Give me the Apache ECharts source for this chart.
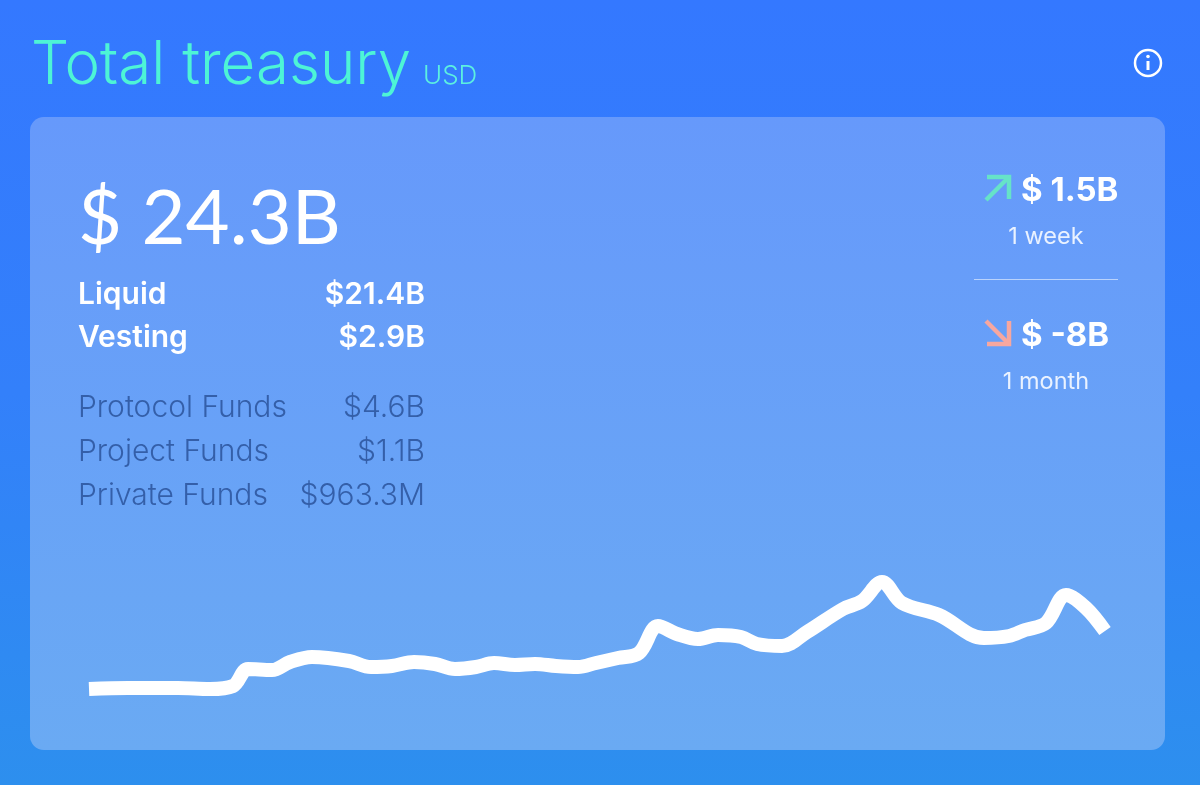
<!DOCTYPE html>
<html><head><meta charset="utf-8">
<style>html,body{margin:0;padding:0;width:1200px;height:785px;overflow:hidden}#c{width:1200px;height:785px}</style>
<script src="https://cdn.jsdelivr.net/npm/echarts@6/dist/echarts.min.js"></script>
</head><body><div id="c"></div>
<script>
// Horizontal position along the period (arbitrary time units) and treasury value in $B
const timeSteps = [0,39,89,121,144,159,183,201,223,260,282,303,325,346,366,387,405,426,446,467,489,507,529,550,569,588,609,629,652,668,693,718,754,773,793,813,850,895,920,936,957,977,997,1016];
const treasuryValues = [8.64,8.91,8.91,8.64,9.45,14.04,13.77,15.93,17.28,16.2,14.58,14.85,15.93,15.39,14.04,14.58,15.66,15.12,15.39,14.85,14.58,15.66,17.01,18.36,25.65,23.49,22.14,23.22,22.68,20.79,20.25,24.03,30.24,32.4,37.53,31.86,28.62,22.41,22.95,24.57,26.46,34.02,30.51,24.3];

const titleText = 'Total treasury';
const unitText = 'USD';
const totalText = '$ 24.3B';
const mainLabels = ['Liquid', 'Vesting'];
const mainValues = ['$21.4B', '$2.9B'];
const fundLabels = ['Protocol Funds', 'Project Funds', 'Private Funds'];
const fundValues = ['$4.6B', '$1.1B', '$963.3M'];
const changeValues = ['$ 1.5B', '$ -8B'];
const changePeriods = ['1 week', '1 month'];

const INTER = 'Inter, "Noto Sans", sans-serif';
const ROUND = 'Lato, "Noto Sans", sans-serif';

function label(text, x, baseline, size, weight, family, fill, align) {
  return {
    type: 'text', z: 5,
    style: {
      text, x, y: baseline - size * 0.28,
      fill, font: `${weight} ${size}px ${family}`,
      textAlign: align || 'left', textVerticalAlign: 'middle'
    }
  };
}
function arrow(points, color) {
  return points.map(p => ({
    type: 'polyline', z: 5,
    shape: { points: p },
    style: { stroke: color, lineWidth: 4.5, fill: null, lineCap: 'butt', lineJoin: 'miter' }
  }));
}

const graphics = [
  {
    type: 'rect', z: 0,
    shape: { x: 30, y: 117, width: 1135, height: 633, r: 14 },
    style: { fill: new echarts.graphic.LinearGradient(0, 0, 0, 1, [
      { offset: 0, color: '#6699fb' }, { offset: 1, color: '#6aaaf3' }
    ]) }
  },
  label(titleText, 31, 83, 60, 300, INTER, '#4df4d6'),
  label(unitText, 423, 83, 26, 300, INTER, '#5cf0e0'),
  label(totalText, 78, 241, 76, 400, ROUND, '#ffffff'),
  { type: 'circle', z: 5, shape: { cx: 1148, cy: 63, r: 13 }, style: { stroke: '#ffffff', lineWidth: 2.5, fill: null } },
  { type: 'circle', z: 5, shape: { cx: 1148, cy: 56.5, r: 1.8 }, style: { fill: '#ffffff' } },
  { type: 'line', z: 5, shape: { x1: 1148, y1: 61, x2: 1148, y2: 70 }, style: { stroke: '#ffffff', lineWidth: 3 } },
  { type: 'line', z: 5, shape: { x1: 974, y1: 279.5, x2: 1118, y2: 279.5 }, style: { stroke: 'rgba(255,255,255,0.55)', lineWidth: 1 } },
  ...arrow([[[986, 200], [1008, 178]], [[987, 177], [1009, 177], [1009, 199]]], '#66e3c8'),
  ...arrow([[[986, 321], [1008, 343]], [[987, 344], [1009, 344], [1009, 321]]], '#f7a79f')
];
mainLabels.forEach((t, i) => {
  const b = [303, 346][i];
  graphics.push(label(t, 78, b, 30, 600, INTER, '#ffffff'));
  graphics.push(label(mainValues[i], 425, b, 30, 600, INTER, '#ffffff', 'right'));
});
fundLabels.forEach((t, i) => {
  const b = [416, 460, 504][i];
  graphics.push(label(t, 78, b, 30, 300, INTER, '#345fa9'));
  graphics.push(label(fundValues[i], 425, b, 30, 300, INTER, '#345fa9', 'right'));
});
changeValues.forEach((t, i) => {
  graphics.push(label(t, 1021, [200, 345][i], 33, 700, INTER, '#ffffff'));
  graphics.push(label(changePeriods[i], 1046, [244, 389][i], 23.5, 400, INTER, '#eaf2ff', 'center'));
});

const chart = echarts.init(document.getElementById('c'), null, { renderer: 'canvas' });
chart.setOption({
  animation: false,
  backgroundColor: new echarts.graphic.LinearGradient(0, 0, 0, 1, [
    { offset: 0, color: '#3478ff' }, { offset: 0.5, color: '#3380fa' }, { offset: 1, color: '#2d8fee' }
  ]),
  grid: { left: 89, top: 559, width: 1016, height: 162 },
  xAxis: { type: 'value', min: 0, max: 1016, show: false },
  yAxis: { type: 'value', min: 0, max: 43.74, show: false },
  graphic: graphics,
  series: [{
    type: 'line',
    data: timeSteps.map((t, i) => [t, treasuryValues[i]]),
    showSymbol: false,
    smooth: 0.35,
    clip: false,
    lineStyle: { color: '#ffffff', width: 14, cap: 'butt', join: 'round' }
  }]
});
</script>
</body></html>
